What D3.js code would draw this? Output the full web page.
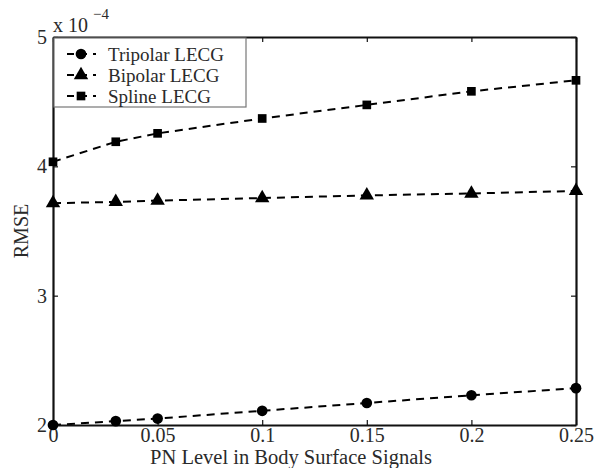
<!DOCTYPE html>
<html><head><meta charset="utf-8">
<script src="https://cdn.jsdelivr.net/npm/d3@7"></script>
<style>body{margin:0;background:#fff}svg{display:block}svg text{font-family:"Liberation Serif","Times New Roman",serif}</style>
</head><body>
<script>
const xValues = [0, 0.03, 0.05, 0.1, 0.15, 0.2, 0.25];
const tripolar = [2.00, 2.03, 2.05, 2.11, 2.17, 2.23, 2.285];
const bipolar = [3.715, 3.725, 3.735, 3.755, 3.775, 3.79, 3.81];
const spline = [4.035, 4.19, 4.255, 4.37, 4.475, 4.58, 4.665];
const seriesNames = ["Tripolar LECG", "Bipolar LECG", "Spline LECG"];
const xTicks = [0, 0.05, 0.1, 0.15, 0.2, 0.25];
const xTickLabels = ["0", "0.05", "0.1", "0.15", "0.2", "0.25"];
const yTicks = [2, 3, 4, 5];

const W = 594, H = 468;
const m = {l: 53, r: 18, t: 37, b: 43};
const svg = d3.select("body").append("svg").attr("width", W).attr("height", H);
const x = d3.scaleLinear().domain([0, 0.25]).range([m.l, W - m.r]);
const y = d3.scaleLinear().domain([2, 5]).range([H - m.b, m.t]);

const series = [
  {name: seriesNames[0], vals: tripolar, sym: d3.symbolCircle, size: 90},
  {name: seriesNames[1], vals: bipolar, sym: d3.symbolTriangle, size: 90},
  {name: seriesNames[2], vals: spline, sym: d3.symbolSquare, size: 75}
];

const line = d3.line().x((d, i) => x(xValues[i])).y(d => y(d));
series.forEach(s => {
  svg.append("path").attr("d", line(s.vals)).attr("fill", "none")
    .attr("stroke", "#000").attr("stroke-width", 2).attr("stroke-dasharray", "8,6");
});

const fs = 20;
const tc = "#2a2a2a";
const gx = svg.append("g").attr("transform", `translate(0,${H - m.b})`)
  .call(d3.axisBottom(x).tickValues(xTicks).tickFormat((d, i) => xTickLabels[i]).tickSizeInner(-5).tickSizeOuter(0).tickPadding(6));
const gxt = svg.append("g").attr("transform", `translate(0,${m.t})`)
  .call(d3.axisTop(x).tickValues(xTicks).tickFormat("").tickSizeInner(-5).tickSizeOuter(0));
const gy = svg.append("g").attr("transform", `translate(${m.l},0)`)
  .call(d3.axisLeft(y).tickValues(yTicks).tickFormat(d3.format("d")).tickSizeInner(-5).tickSizeOuter(0).tickPadding(6));
const gyr = svg.append("g").attr("transform", `translate(${W - m.r},0)`)
  .call(d3.axisRight(y).tickValues(yTicks).tickFormat("").tickSizeInner(-5).tickSizeOuter(0));
[gx, gxt, gy, gyr].forEach(g => {
  g.attr("font-family", "Liberation Serif, serif").attr("font-size", fs);
  g.select(".domain").attr("stroke", "#111").attr("stroke-width", 2.2);
  g.selectAll(".tick line").attr("stroke", "#111").attr("stroke-width", 1.2);
  g.selectAll("text").attr("font-size", fs).attr("fill", tc);
});
gx.selectAll("text").attr("y", 17).attr("dy", 0);
gy.selectAll("text").attr("dy", "0.32em");

series.forEach(s => {
  svg.append("g").selectAll("path").data(s.vals).join("path")
    .attr("transform", (d, i) => `translate(${x(xValues[i])},${y(d)})`)
    .attr("d", d3.symbol().type(s.sym).size(s.size)).attr("fill", "#000");
});

svg.append("text").attr("x", 53).attr("y", 32).attr("font-size", fs).attr("fill", tc).text("x 10");
svg.append("text").attr("x", 93).attr("y", 19).attr("font-size", 15).attr("fill", tc).text("\u22124");

svg.append("text").attr("x", 291).attr("y", 464).attr("text-anchor", "middle")
  .attr("font-size", 20.5).attr("fill", tc).text("PN Level in Body Surface Signals");
svg.append("text").attr("transform", `translate(28,${(m.t + H - m.b) / 2}) rotate(-90)`)
  .attr("text-anchor", "middle").attr("font-size", fs).attr("fill", tc).text("RMSE");

const lg = svg.append("g");
lg.append("rect").attr("x", 54).attr("y", 38).attr("width", 192).attr("height", 69)
  .attr("fill", "#fff").attr("stroke", "#777").attr("stroke-width", 1.2);
const rowY = [54, 75, 96];
series.forEach((s, i) => {
  const yy = rowY[i];
  lg.append("line").attr("x1", 67).attr("x2", 96).attr("y1", yy).attr("y2", yy)
    .attr("stroke", "#000").attr("stroke-width", 2).attr("stroke-dasharray", "7,6");
  lg.append("path").attr("transform", `translate(81,${yy})`)
    .attr("d", d3.symbol().type(s.sym).size(s.size)).attr("fill", "#000");
  lg.append("text").attr("x", 108).attr("y", yy).attr("dy", "0.35em").attr("font-size", 19)
    .attr("fill", tc).text(s.name);
});
</script>
</body></html>
